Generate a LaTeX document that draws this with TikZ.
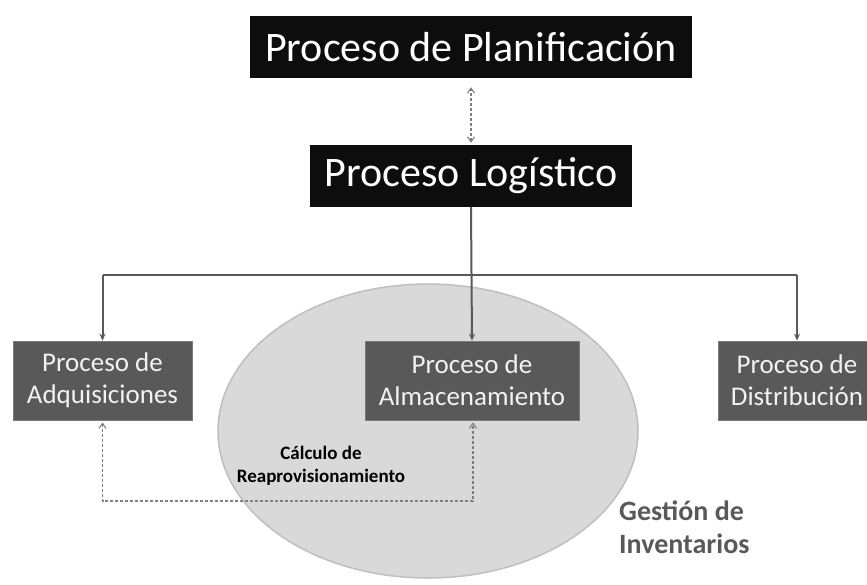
\documentclass[tikz,border=0pt]{standalone}
\usepackage{fontspec}
\setmainfont{Carlito}
\usetikzlibrary{arrows.meta}
\definecolor{boxgray}{HTML}{595959}
\definecolor{ellfill}{HTML}{D9D9D9}
\definecolor{ellline}{HTML}{BFBFBF}
\definecolor{dashgray}{HTML}{7F7F7F}
\tikzset{
  blackbox/.style={fill=black!95, text=white, inner sep=0pt, font=\fontsize{42}{48}\selectfont},
  graybox/.style={fill=boxgray, draw=boxgray!80, line width=0.8pt, text=white!95!black, inner sep=0pt, align=center, font=\fontsize{27}{32}\selectfont},
  solidarrow/.style={draw=boxgray, line width=2pt, -{Stealth[length=7pt,width=6pt]}},
  solidline/.style={draw=boxgray, line width=2pt},
  dasharrow/.style={draw=dashgray, line width=1.1pt, dash pattern=on 3pt off 2pt, {Straight Barb[length=5pt,width=7pt]}-{Straight Barb[length=5pt,width=7pt]}},
}
\begin{document}
\begin{tikzpicture}[x=1pt,y=-1pt]
\useasboundingbox (0,0) rectangle (867,584);
\fill[white] (0,0) rectangle (867,584);
% ellipse
\draw[fill=ellfill, draw=ellline, line width=1.5pt] (428,431) ellipse [x radius=210, y radius=147];
% nodes
\node[blackbox, minimum width=442pt, minimum height=62pt] (plan) at (471,47) {Proceso de Planificación};
\node[blackbox, minimum width=322pt, minimum height=62pt] (log) at (471,176) {Proceso Logístico};
\node[graybox, minimum width=179pt, minimum height=79pt] (adq) at (102.5,380.5) {Proceso de\\Adquisiciones};
\node[graybox, minimum width=214pt, minimum height=79pt] (alm) at (472,380.5) {Proceso de\\Almacenamiento};
\node[graybox, minimum width=158pt, minimum height=79pt] (dis) at (797,380.5) {Proceso de\\Distribución};
\node[font=\bfseries\fontsize{19}{23}\selectfont, align=center, text=black] (calc) at (321,466) {Cálculo de\\Reaprovisionamiento};
\node[font=\bfseries\fontsize{28}{33}\selectfont, align=left, text=boxgray, anchor=west, inner sep=0pt] (gest) at (619,527) {Gestión de\\Inventarios};
% connectors
\draw[dasharrow, shorten <=2pt, shorten >=9pt] (log.north) -- (plan.south);
\coordinate (hl) at (102.5,275);
\coordinate (hr) at (797,275);
\draw[solidarrow] (log.south) -- (alm.north);
\draw[solidline] (hl) -- (hr);
\draw[solidarrow] (hl) -- (adq.north);
\draw[solidarrow] (hr) -- (dis.north);
\coordinate (dc) at (473,501);
\draw[dasharrow, shorten <=2pt, shorten >=2pt] (adq.south) |- (dc) -- (dc |- alm.south);
\end{tikzpicture}
\end{document}
